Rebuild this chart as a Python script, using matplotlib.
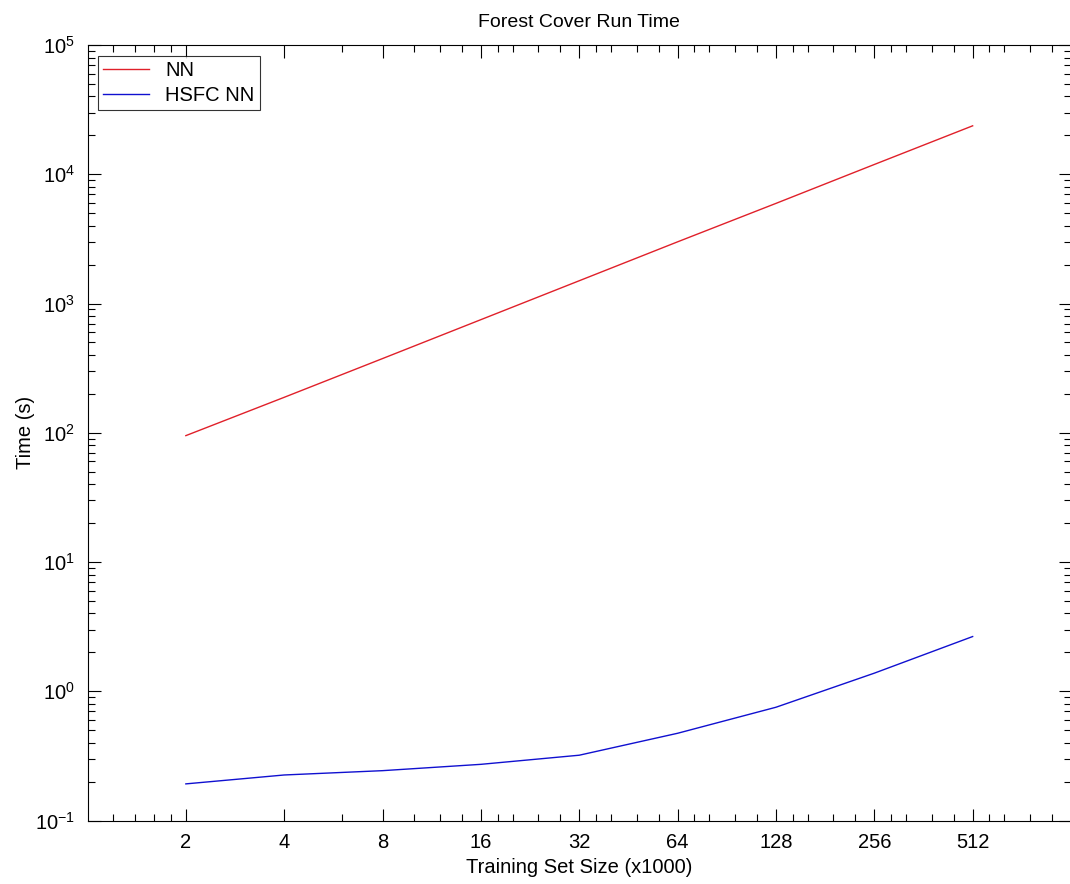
import matplotlib
matplotlib.use("Agg")
import matplotlib.pyplot as plt
from matplotlib.ticker import FixedLocator, NullFormatter, LogFormatterMathtext

plt.rcParams['font.family'] = ['Liberation Sans', 'DejaVu Sans']
plt.rcParams['axes.unicode_minus'] = False

sizes = [2, 4, 8, 16, 32, 64, 128, 256, 512]
nn_time = [95, 188, 375, 750, 1500, 3000, 5950, 11900, 23700]
hsfc_time = [0.192, 0.225, 0.243, 0.272, 0.320, 0.473, 0.752, 1.38, 2.65]
tick_labels = [str(s) for s in sizes]
y_decades = [0.1, 1, 10, 100, 1000, 10000, 100000]

W, H = 1070, 884
fig = plt.figure(figsize=(W / 100, H / 100), dpi=100)
ax = fig.add_axes([87.5 / W, (H - 820.5) / H, (1071 - 87.5) / W, (820.5 - 45) / H])

ax.plot(sizes, nn_time, color='#e0202a', lw=1.0, label='NN')
ax.plot(sizes, hsfc_time, color='#1010d0', lw=1.0, label='HSFC NN')

ax.set_xscale('log', base=2)
ax.set_yscale('log')
ax.set_xlim(1, 1024)
ax.set_ylim(0.1, 1e5)

ax.xaxis.set_major_locator(FixedLocator(sizes))
ax.set_xticklabels(tick_labels)
minor_x = [1.2, 1.4, 1.6, 1.8, 6]
for k in range(3, 10):
    base = 2 ** k
    mults = [1.25, 1.5, 1.75] if k == 3 else [1.125, 1.25, 1.5, 1.75]
    minor_x += [base * m for m in mults]
ax.xaxis.set_minor_locator(FixedLocator(minor_x))
ax.xaxis.set_minor_formatter(NullFormatter())

ax.yaxis.set_major_locator(FixedLocator(y_decades))
ax.yaxis.set_major_formatter(LogFormatterMathtext())
minor_y = [d * m for d in y_decades[:-1] for m in range(2, 10)]
ax.yaxis.set_minor_locator(FixedLocator(minor_y))
ax.yaxis.set_minor_formatter(NullFormatter())

ax.tick_params(which='both', direction='in', top=True, right=True, labelsize=14.5, width=0.8, colors='black')
ax.tick_params(which='major', length=9, pad=9)
ax.tick_params(which='minor', length=5)
for s in ax.spines.values():
    s.set_linewidth(0.8)

ax.set_title('Forest Cover Run Time', fontsize=14, pad=13)
ax.set_xlabel('Training Set Size (x1000)', fontsize=14.5, labelpad=4)
ax.set_ylabel('Time (s)', fontsize=14.5, labelpad=0)

leg = ax.legend(loc='upper left', bbox_to_anchor=((98 - 87.5) / (1071 - 87.5), 1 - (56 - 45) / (820.5 - 45)),
                fontsize=14.5, frameon=True, fancybox=False, borderaxespad=0, handlelength=2.3,
                borderpad=0.25, labelspacing=0.3, handletextpad=0.8)
leg.get_frame().set_edgecolor('black')
leg.get_frame().set_linewidth(0.8)

fig.savefig('out.png', dpi=100)
